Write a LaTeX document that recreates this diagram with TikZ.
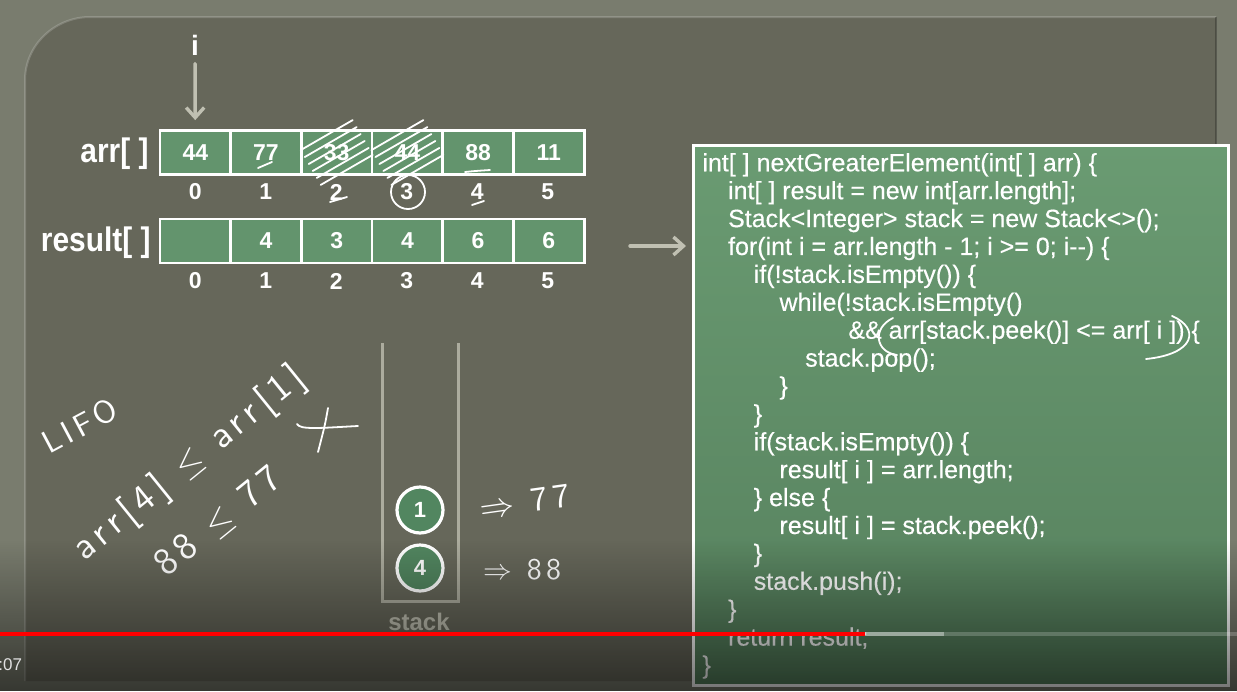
\documentclass[tikz,border=0pt]{standalone}
\usepackage{graphicx}
\usepackage{fontspec}
\setmainfont{Liberation Sans}
\newfontfamily\codefont{Liberation Sans}[FakeBold=0.4]
\newfontfamily\handfont{lmsans10-regular.otf}[LetterSpace=14]
\usetikzlibrary{arrows.meta, calc, fadings}

\definecolor{frameGray}{RGB}{121,124,110}
\definecolor{boardGray}{RGB}{102,103,90}
\definecolor{cellGreen}{RGB}{99,148,109}
\definecolor{codeGreen}{RGB}{106,155,114}
\definecolor{codeGreenDark}{RGB}{86,128,93}
\definecolor{dotGreen}{RGB}{82,134,96}
\definecolor{chalkGray}{RGB}{192,192,178}
\definecolor{stackGray}{RGB}{172,172,158}

\begin{document}
\begin{tikzpicture}[x=0.5pt,y=-0.5pt,
    cell/.style={draw=white, line width=1.4pt, fill=cellGreen, minimum width=35.4pt,
        minimum height=22pt, inner sep=0pt, text=white, font=\bfseries\fontsize{11.5}{13}\selectfont},
    idx/.style={inner sep=0pt, text=white, font=\bfseries\fontsize{11.5}{13}\selectfont},
    arrlabel/.style={inner sep=0pt, anchor=east, text=white, font=\bfseries\fontsize{17}{20}\selectfont},
    chalkarrow/.style={-{Straight Barb[length=5pt,width=9pt]}, line width=1.7pt, draw=chalkGray, line cap=round},
    codeline/.style={anchor=mid west, inner sep=0pt, text=white, font=\codefont\fontsize{12.5}{14}\selectfont},
    stackitem/.style={circle, draw=white, line width=1.6pt, fill=dotGreen, minimum size=23pt,
        inner sep=0pt, text=white, font=\bfseries\fontsize{11}{13}\selectfont},
    hand/.style={inner sep=0pt, text=white},
    chalk/.style={draw=white, line width=0.9pt, line cap=round},
]
\useasboundingbox (0,0) rectangle (1237,691);

% board
\fill[frameGray] (0,0) rectangle (1237,691);
\fill[boardGray] (25,681) -- (25,80) .. controls (25,45) and (55,17) .. (90,17)
    -- (1216,17) -- (1216,681) -- cycle;
\draw[white, opacity=0.18, line width=1pt] (25,681) -- (25,80) .. controls (25,45) and (55,17) .. (90,17) -- (1216,17);
\draw[black, opacity=0.25, line width=1pt] (1216,17) -- (1216,681);

% arrays
\node[arrlabel] (arrlbl) at (149,154) {\scalebox{0.88}[1]{arr[ ]}};
\node[arrlabel] (reslbl) at (151,243) {\scalebox{0.88}[1]{result[ ]}};
\foreach \v [count=\k from 0] in {44,77,33,44,88,11}
    \node[cell] (a\k) at (195.3+70.7*\k,152.5) {\v};
\foreach \v [count=\k from 0] in {{},4,3,4,6,6}
    \node[cell] (r\k) at (195.3+70.7*\k,241) {\v};
\foreach \k in {0,...,5} {
    \node[idx] (ai\k) at (195.3+70.5*\k,192) {\k};
    \node[idx] (ri\k) at (195.3+70.5*\k,281) {\k};
}

% pointer i
\node[inner sep=0pt, text=white, font=\bfseries\fontsize{14}{16}\selectfont] (ptr) at (195,45) {i};
\draw[chalkarrow, shorten <=4pt, shorten >=4.5pt] (ptr) -- (a0);

% chalk marks on the arrays
\foreach \c in {2,3}
    \foreach \d in {-20,-12,-4,4,12,20}
        \draw[chalk] ($(a\c)+(0.5*\d-26,0.87*\d+15)$) -- ($(a\c)+(0.5*\d+26,0.87*\d-15)$);
\draw[chalk] (258,168) -- (272,162);
\draw[chalk] (465,172) .. controls (475,171) .. (490,170);
\draw[chalk] (330,202) -- (347,197);
\draw[chalk] (472,205) -- (484,201);
\draw[chalk] (408,192) circle (17);

% arrow to code
\coordinate (toCode) at (630,246);

% code
\node[draw=white, line width=1.5pt, top color=codeGreen, bottom color=codeGreenDark,
    minimum width=267.5pt, minimum height=270pt, anchor=north west, inner sep=0pt] (code) at (692,144) {};
\draw[chalkarrow, shorten >=3pt] (toCode) -- (toCode -| code.west);
\foreach \lvl/\txt [count=\n from 0] in {
    0/{int[ ] nextGreaterElement(int[ ] arr) \{},
    1/{int[ ] result = new int[arr.length];},
    1/{Stack<Integer> stack = new Stack<>();},
    1/{for(int i = arr.length - 1; i >= 0; i-{}-) \{},
    2/{if(!stack.isEmpty()) \{},
    3/{while(!stack.isEmpty()},
    5.68/{\&\& arr[stack.peek()] <= arr[ i ]) \{},
    4/{stack.pop();},
    3/{\}},
    2/{\}},
    2/{if(stack.isEmpty()) \{},
    3/{result[ i ] = arr.length;},
    2/{\} else \{},
    3/{result[ i ] = stack.peek();},
    2/{\}},
    2/{stack.push(i);},
    1/{\}},
    1/{return result;},
    0/{\}}}
    \node[codeline] (ln\n) at (702+25.7*\lvl,166+27.9*\n) {\txt};
\draw[chalk] (893,318) .. controls (872,328) and (875,352) .. (897,355);
\draw[chalk] (1172,316) .. controls (1200,328) and (1196,354) .. (1146,359);

% stack
\draw[stackGray, line width=1.5pt] (382,343) -- (382,601) -- (458,601) -- (458,343);
\node[stackitem] (s1) at (420,510) {1};
\node[stackitem] (s4) at (420,568) {4};
\node[inner sep=0pt, text=chalkGray, font=\bfseries\fontsize{12}{14}\selectfont] (stacklbl) at (419,622) {stack};

% handwriting
\node[hand, rotate=28, font=\handfont\fontsize{16}{18}\selectfont] (lifo) at (80,426) {LIFO};
\node[hand, rotate=39, font=\handfont\fontsize{19}{22}\selectfont] (cmp) at (190,464)
    {arr[4]\enspace$\leq$\enspace arr[1]};
\node[hand, rotate=39, font=\handfont\fontsize{19}{22}\selectfont] (cmpval) at (219,522)
    {88\enspace$\leq$\enspace 77};
\draw[chalk] (297,424) .. controls (300,430) and (320,428) .. (358,426);
\draw[chalk] (328,408) .. controls (325,425) .. (318,452);
\node[hand, rotate=8, font=\handfont\fontsize{17}{20}\selectfont] (top) at (525,502) {$\Rightarrow$\enspace 77};
\node[hand, font=\handfont\fontsize{15}{17}\selectfont] (bot) at (522,570) {$\Rightarrow$\enspace 88};

% player bar
\fill[black, opacity=0.55, path fading=north] (0,540) rectangle (1237,691);
\draw[red, line width=1.6pt] (0,634) -- (865,634);
\draw[white, opacity=0.5, line width=1.6pt] (865,634) -- (944,634);
\draw[white, opacity=0.2, line width=1.6pt] (944,634) -- (1237,634);
\node[anchor=west, inner sep=0pt, text=white!88!black, font=\fontsize{8.5}{10}\selectfont] (time) at (-2,665) {:07};
\end{tikzpicture}
\end{document}
